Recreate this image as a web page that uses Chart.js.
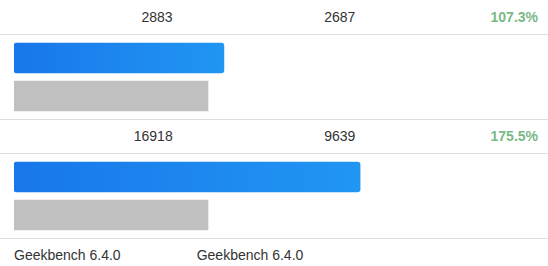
<!DOCTYPE html>
<html>
<head>
<meta charset="utf-8">
<script src="https://cdn.jsdelivr.net/npm/chart.js@4"></script>
<style>
    body { margin: 0; background: #fff; font-family: "Liberation Sans", Arial, sans-serif; font-size: 14px; color: #333; width: 548px; overflow: hidden; }
    .row { display: flex; border-bottom: 1px solid #dedede; }
    .row span { flex: 1 1 0; box-sizing: border-box; }
    .head span { text-align: right; padding-right: 10px; }
    .head .pct { color: #79b987; font-weight: bold; }
    .foot span { text-align: left; padding-left: 14px; line-height: 32px; }
    .bars { border-bottom: 1px solid #dedede; height: 84px; }
    canvas { display: block; }
</style>
</head>
<body>
<div id="wrap"></div>
<script>
// scores as printed in the header rows
const deviceScores = [2883, 16918];
const baselineScores = [2687, 9639];
const ratioLabels = ['107.3%', '175.5%'];
// bar lengths, relative to the grey baseline bar (= 100)
const deviceBars = [108.2, 178.4];
const baselineBars = [100, 100];
const benchmarkLabels = ['Geekbench 6.4.0', 'Geekbench 6.4.0'];

const wrap = document.getElementById('wrap');

function addHead(i, height) {
    const row = document.createElement('div');
    row.className = 'row head';
    row.style.height = height + 'px';
    row.style.lineHeight = height + 'px';
    [deviceScores[i], baselineScores[i], ratioLabels[i]].forEach((t, k) => {
        const s = document.createElement('span');
        s.textContent = t;
        if (k === 2) s.className = 'pct';
        row.appendChild(s);
    });
    wrap.appendChild(row);
}

function addBars(i) {
    const box = document.createElement('div');
    box.className = 'bars';
    const canvas = document.createElement('canvas');
    canvas.width = 548;
    canvas.height = 84;
    box.appendChild(canvas);
    wrap.appendChild(box);

    new Chart(canvas.getContext('2d'), {
        type: 'bar',
        data: {
            labels: ['device', 'baseline'],
            datasets: [{
                data: [deviceBars[i], baselineBars[i]],
                barThickness: 30,
                borderSkipped: false,
                borderRadius: ctx => ctx.dataIndex === 0 ? 3 : 0,
                backgroundColor: ctx => {
                    if (ctx.dataIndex !== 0) return '#c0c0c0';
                    const chart = ctx.chart;
                    const x = chart.scales && chart.scales.x;
                    if (!chart.chartArea || !x) return '#1e88ee';
                    const x0 = x.getPixelForValue(0);
                    const x1 = x.getPixelForValue(ctx.raw);
                    const g = chart.ctx.createLinearGradient(x0, 0, x1, 0);
                    g.addColorStop(0, '#1877ea');
                    g.addColorStop(1, '#2196f3');
                    return g;
                }
            }]
        },
        options: {
            indexAxis: 'y',
            responsive: false,
            animation: false,
            layout: { padding: { left: 14, right: 146, top: 4, bottom: 4 } },
            scales: {
                x: { display: false, min: 0, max: 200 },
                y: { display: false }
            },
            plugins: { legend: { display: false }, tooltip: { enabled: false } }
        }
    });
}

addHead(0, 34);
addBars(0);
addHead(1, 33);
addBars(1);

const foot = document.createElement('div');
foot.className = 'row foot';
foot.style.borderBottom = 'none';
benchmarkLabels.concat(['']).forEach(t => {
    const s = document.createElement('span');
    s.textContent = t;
    foot.appendChild(s);
});
wrap.appendChild(foot);
</script>
</body>
</html>
